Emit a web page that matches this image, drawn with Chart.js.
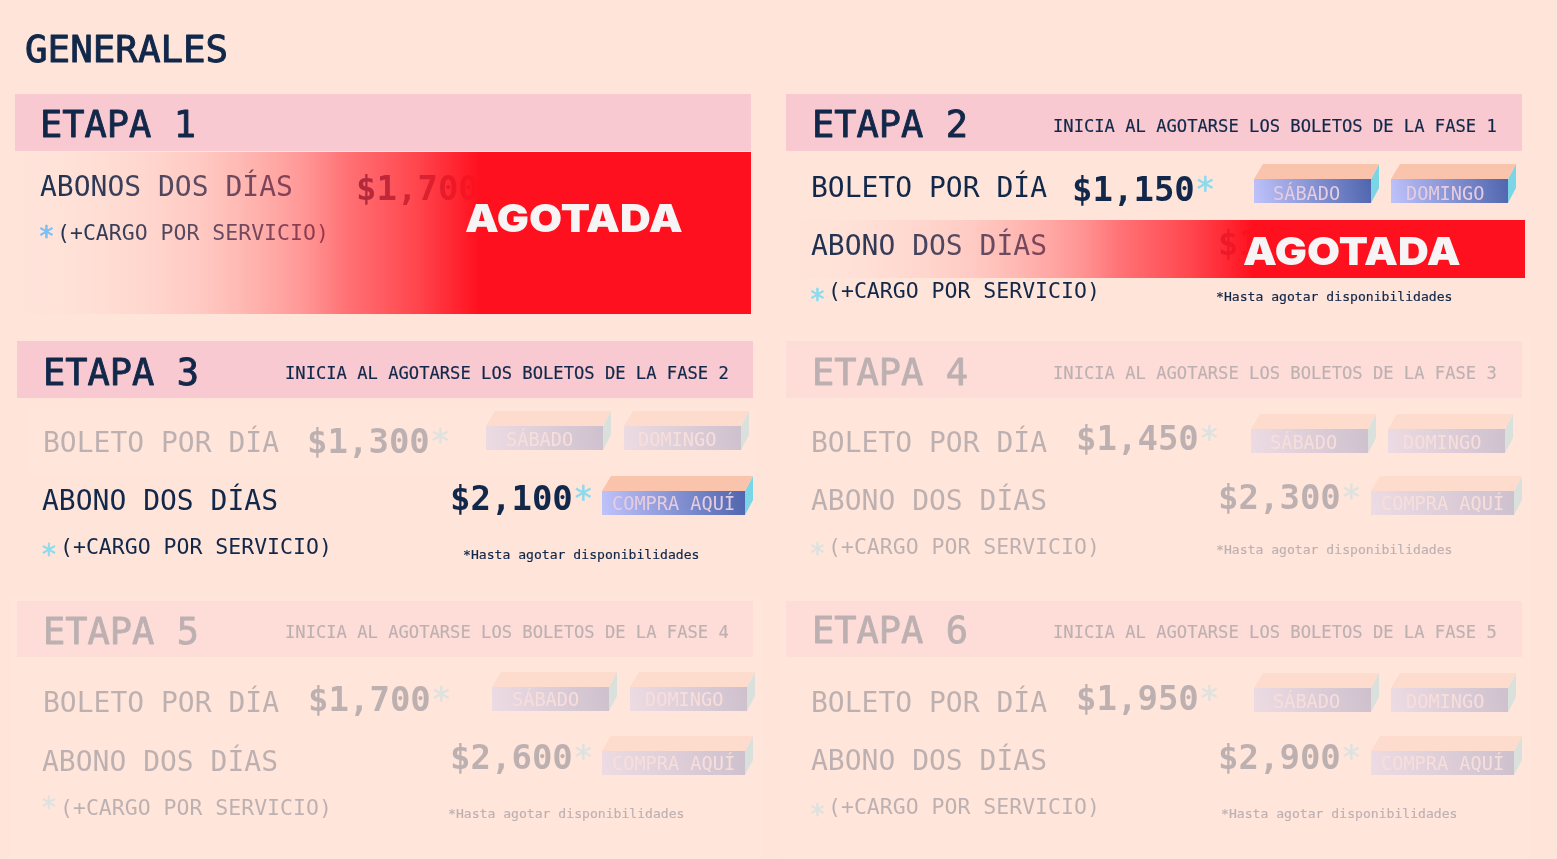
<!DOCTYPE html>
<html lang="es"><head><meta charset="utf-8"><title>Generales</title>
<style>html,body{margin:0;padding:0;background:#FFE4DA;overflow:hidden}canvas{display:block;filter:blur(.7px)}</style>
<script src="https://cdn.jsdelivr.net/npm/chart.js@4/dist/chart.umd.min.js"></script></head>
<body><canvas id="c" width="1557" height="859"></canvas>
<script>
// ---- data ----
const PAGE_TITLE = 'GENERALES';
const ETAPAS = ['ETAPA 1','ETAPA 2','ETAPA 3','ETAPA 4','ETAPA 5','ETAPA 6'];
const NOTAS = ['','INICIA AL AGOTARSE LOS BOLETOS DE LA FASE 1','INICIA AL AGOTARSE LOS BOLETOS DE LA FASE 2','INICIA AL AGOTARSE LOS BOLETOS DE LA FASE 3','INICIA AL AGOTARSE LOS BOLETOS DE LA FASE 4','INICIA AL AGOTARSE LOS BOLETOS DE LA FASE 5'];
const BOLETO_POR_DIA = [null,1150,1300,1450,1700,1950];
const ABONO_DOS_DIAS = [1700,1900,2100,2300,2600,2900];
const ABONO_LABELS = ['ABONOS DOS DÍAS','ABONO DOS DÍAS','ABONO DOS DÍAS','ABONO DOS DÍAS','ABONO DOS DÍAS','ABONO DOS DÍAS'];
const BOLETO_LABEL = 'BOLETO POR DÍA';
const CARGO = '(+CARGO POR SERVICIO)';
const HASTA = '*Hasta agotar disponibilidades';
const BTN_SAT = 'SÁBADO', BTN_SUN = 'DOMINGO', BTN_BUY = 'COMPRA AQUÍ';
const AGOTADA = 'AGOTADA';

// ---- page layout (not data) ----
const C = {bg:'#FFE4DA',band:'#F9C9D2',navy:'#12284A',red:'#FF101E',top:'#F9C4AB',side:'#7AD6E6',frontA:'#BFC3FB',frontB:'#4F65AE',star:'#8ADBEE',btn:'#E6CCDF'};
const L = [
 {band:[15,94,751,151],h:[40,137],
  ab:[40,196],abp:[356,200],cargo:[57,240],cs:[38,246],starColor:'#74BEF5'},
 {band:[786,94,1522,151],h:[812,137],n:[1053,131.5],
  bo:[811,197],bop:[1072,201],sat:[1254,164,1273,200],sun:[1391,164,1406,200],
  ab:[811,255],abp:[1218,255],cargo:[828,298],cs:[809,309],ha:[1216,301]},
 {band:[17,341,753,398],h:[43,385],n:[285,379],
  bo:[43,452],bop:[307,453],sat:[486,411,506,446],sun:[624,411,638,446],
  ab:[42,510],abp:[450,510],buy:[602,476,612,510],cargo:[60,554],cs:[40.5,564],ha:[463,559]},
 {band:[786,341,1522,398],h:[812,385],n:[1053,379],
  bo:[811,452],bop:[1076,450],sat:[1251,414,1270,449],sun:[1388,414,1403,449],
  ab:[811,510],abp:[1218,509],buy:[1371,476,1381,510],cargo:[828,554],cs:[809,563],ha:[1216,554]},
 {band:[17,601,753,657],h:[43,644],n:[285,638],
  bo:[43,712],bop:[308,711],sat:[492,672,512,706],sun:[630,672,645,706],
  ab:[42,771],abp:[450,769],buy:[602,736,612,770],cargo:[60,815],cs:[40.5,817],ha:[448,818]},
 {band:[786,601,1522,657],h:[812,643],n:[1053,638],
  bo:[811,712],bop:[1076,710],sat:[1254,673,1273,708],sun:[1391,673,1406,708],
  ab:[811,770],abp:[1218,769],buy:[1371,736,1381,770],cargo:[828,814],cs:[809,824],ha:[1221,818]}
];
const DIM = 'rgba(255,228,218,.72)';
const DIM_ZONES = [[29,408,755,475],[780,336,1530,596],[10,596,762,859],[780,596,1530,859]];
const SOLD = [[15,152,751,314],[790,220,1525,278]];
const SOLD_TEXT = [[465,232],[1243,265]];
const SOLD_STOPS = [[0,'255,228,218',0],[.115,'255,182,177',.13],[.246,'255,150,149',.32],[.394,'255,78,85',.52],[.447,'255,46,57',.62],[.546,'255,34,46',.82],[.63,'255,16,30',1],[1,'255,16,30',1]];

const canvas = document.getElementById('c');
const g = canvas.getContext('2d');
const mono = 'DejaVu Sans Mono';
const money = v => '$' + v.toLocaleString('en-US');
const poly = (pts, color) => ({data:pts.map(p=>({x:p[0],y:p[1]})),showLine:true,fill:'shape',backgroundColor:color,borderWidth:0,borderColor:'transparent',pointRadius:0,pointHoverRadius:0,tension:0});
const rect = (r, color) => poly([[r[0],r[1]],[r[2],r[1]],[r[2],r[3]],[r[0],r[3]],[r[0],r[1]]], color);

const base = [], texts = [];
const put = (s,p,font,color,sw) => texts.push({s,x:p[0],y:p[1],font,color,sw:sw||0});
function button(x, y, w, label, tx, ty){
  const mid = y+15, bot = y+39, rw = x+w, tip = rw+8;
  const gr = g.createLinearGradient(x,bot,rw,mid);
  gr.addColorStop(0,C.frontA); gr.addColorStop(1,C.frontB);
  base.push(poly([[x,mid],[x+9,y],[tip,y],[rw,mid],[x,mid]],C.top));
  base.push(poly([[rw,mid],[tip,y],[tip,y+24],[rw,bot],[rw,mid]],C.side));
  base.push(rect([x,mid,rw,bot],gr));
  put(label,[tx,ty],`18.6px "${mono}"`,C.btn);
}
put(PAGE_TITLE,[25,62],`37.5px "${mono}"`,C.navy,1);
L.forEach((p,i)=>{
  base.push(rect(p.band,C.band));
  put(ETAPAS[i],p.h,`37px "${mono}"`,C.navy,.9);
  if(p.n) put(NOTAS[i],p.n,`17.15px "${mono}"`,C.navy,.2);
  if(p.bo){
    put(BOLETO_LABEL,p.bo,`28px "${mono}"`,C.navy);
    put(money(BOLETO_POR_DIA[i]),p.bop,`bold 34px "${mono}"`,C.navy);
    put('*',[p.bop[0]+123,p.bop[1]],`34px "${mono}"`,C.star,.5);
    button(p.sat[0],p.sat[1],117,BTN_SAT,p.sat[2],p.sat[3]);
    button(p.sun[0],p.sun[1],117,BTN_SUN,p.sun[2],p.sun[3]);
  }
  put(ABONO_LABELS[i],p.ab,`28px "${mono}"`,C.navy);
  put(money(ABONO_DOS_DIAS[i]),p.abp,`bold 34px "${mono}"`,C.navy);
  if(p.buy){
    put('*',[p.abp[0]+123,p.abp[1]],`34px "${mono}"`,C.star,.5);
    button(p.buy[0],p.buy[1],143,BTN_BUY,p.buy[2],p.buy[3]);
  }
  put(CARGO,p.cargo,`21.5px "${mono}"`,C.navy);
  put('*',p.cs,`28px "${mono}"`,p.starColor||C.star,.6);
  if(p.ha) put(HASTA,p.ha,`13.1px "${mono}"`,C.navy,.2);
});

const overlays = [];
SOLD.forEach(r=>{
  const gr = g.createLinearGradient(r[0],0,r[2],0);
  SOLD_STOPS.forEach(s=>gr.addColorStop(s[0],`rgba(${s[1]},${s[2]})`));
  overlays.push(rect(r,gr));
});
DIM_ZONES.forEach(r=>overlays.push(rect(r,DIM)));

const drawText = (chart,list)=>{
  const c = chart.ctx, X = chart.scales.x, Y = chart.scales.y;
  c.textBaseline='alphabetic'; c.textAlign='left';
  list.forEach(t=>{
    c.save();
    c.translate(X.getPixelForValue(t.x),Y.getPixelForValue(t.y));
    if(t.sx) c.scale(t.sx,1);
    c.font=t.font;c.fillStyle=t.color;c.fillText(t.s,0,0);
    if(t.sw){c.strokeStyle=t.color;c.lineWidth=t.sw;c.lineJoin='round';c.strokeText(t.s,0,0);}
    c.restore();
  });
};
const soldTexts = SOLD_TEXT.map(p=>({s:AGOTADA,x:p[0],y:p[1],font:'900 38.5px Inter',color:'#F6F4F4',sx:1.108}));
const textLayers = {id:'textLayers',
  afterDatasetDraw(chart,args){ if(args.index===overlays.length) drawText(chart,texts); },
  afterDatasetsDraw(chart){ drawText(chart,soldTexts); }
};
new Chart(canvas,{type:'scatter',
  data:{datasets:[...overlays,...base]},
  plugins:[textLayers],
  options:{responsive:false,animation:false,events:[],devicePixelRatio:1,
    layout:{padding:0},
    plugins:{legend:{display:false},tooltip:{enabled:false},title:{display:false},filler:{propagate:false}},
    scales:{x:{type:'linear',display:false,min:0,max:1557},y:{type:'linear',display:false,min:0,max:859,reverse:true}}
  }});
</script></body></html>
